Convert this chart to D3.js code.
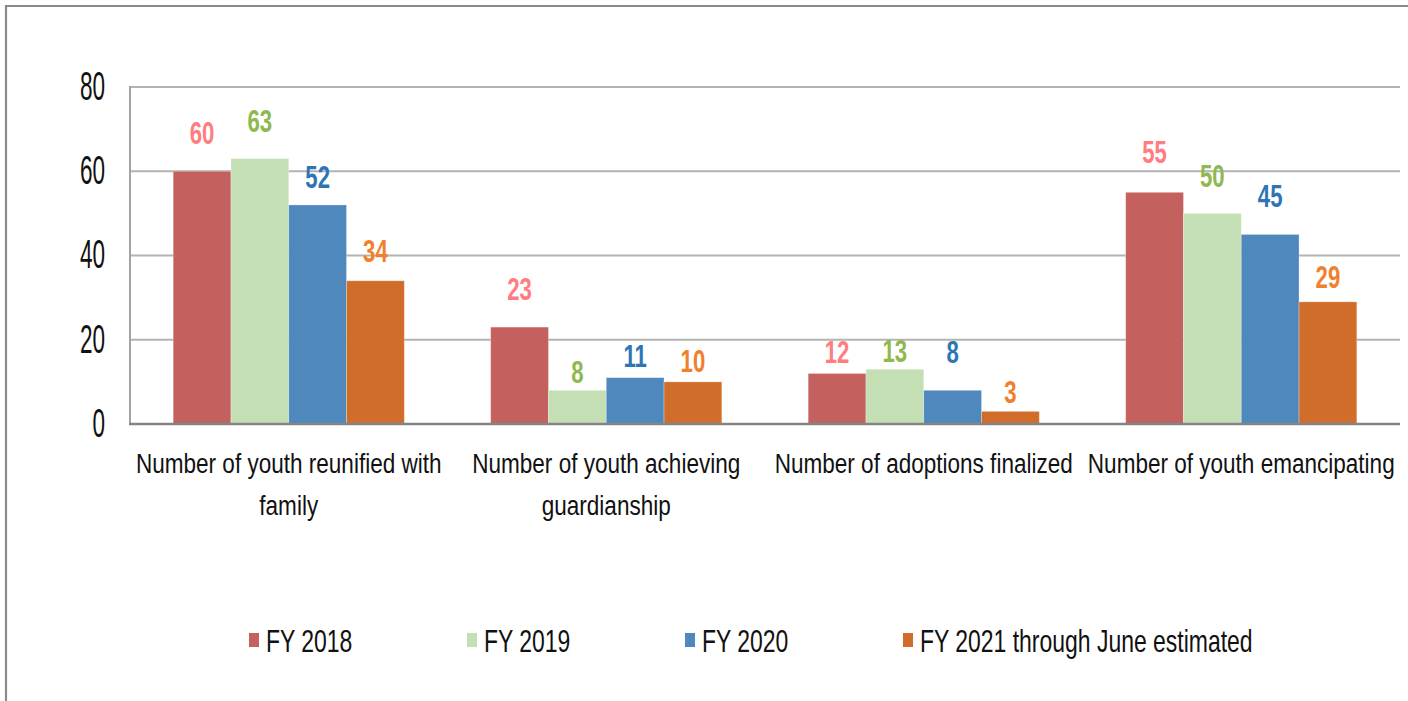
<!DOCTYPE html>
<html>
<head>
<meta charset="utf-8">
<script src="https://cdn.jsdelivr.net/npm/d3@7/dist/d3.min.js"></script>
<style>
  html, body { margin: 0; padding: 0; background: #fff; }
  svg { display: block; }
  text { font-family: "Liberation Sans", Arial, sans-serif; }
</style>
</head>
<body>
<svg id="chart" width="1408" height="701"></svg>
<script>
// ---- data ----
const categories = [
  ["Number of youth reunified with", "family"],
  ["Number of youth achieving", "guardianship"],
  ["Number of adoptions finalized"],
  ["Number of youth emancipating"]
];
const seriesNames = ["FY 2018", "FY 2019", "FY 2020", "FY 2021 through June estimated"];
const fy2018 = [60, 23, 12, 55];
const fy2019 = [63, 8, 13, 50];
const fy2020 = [52, 11, 8, 45];
const fy2021 = [34, 10, 3, 29];
const yTicks = [0, 20, 40, 60, 80];

// ---- styling (not data) ----
const barColors = ["#c4605d", "#c5dfb4", "#4f88bd", "#d16d2a"];
const labelColors = ["#ff7c80", "#8fb84e", "#2e75b6", "#f07f2e"];
// hand-placed label gaps above bar tops in the original (px), by series x category
const labelGap = [
  [27, 27, 10, 29],
  [27, 7, 7, 26],
  [17, 11, 27, 27],
  [19, 10, 8, 14]
];
const NARROW = 0.82; // Liberation Sans squeezed to Arial Narrow proportions

const seriesValues = [fy2018, fy2019, fy2020, fy2021];

const svg = d3.select("#chart");
const W = 1408, H = 701;
const plot = { left: 130, right: 1400, top: 87, bottom: 424 };

// outer frame (top and left visible)
svg.append("path")
  .attr("d", `M6,${H} V6 H${W}`)
  .attr("fill", "none")
  .attr("stroke", "#8a8a8a")
  .attr("stroke-width", 2.2);

const y = d3.scaleLinear().domain([0, 80]).range([plot.bottom, plot.top]);
const x0 = d3.scaleBand().domain(d3.range(categories.length))
  .range([plot.left, plot.right]).paddingInner(0).paddingOuter(0);
const groupPad = 0.136;
const x1 = d3.scaleBand().domain(d3.range(seriesNames.length))
  .range([x0.bandwidth() * groupPad, x0.bandwidth() * (1 - groupPad)]).padding(0);

// gridlines
svg.append("g").selectAll("line")
  .data(yTicks.filter(t => t > 0))
  .join("line")
  .attr("x1", plot.left).attr("x2", plot.right)
  .attr("y1", d => y(d)).attr("y2", d => y(d))
  .attr("stroke", "#b3b3b3").attr("stroke-width", 2);

// y axis line
svg.append("line")
  .attr("x1", plot.left).attr("x2", plot.left)
  .attr("y1", plot.top - 1).attr("y2", plot.bottom)
  .attr("stroke", "#a3a3a3").attr("stroke-width", 2);

// y tick labels (tall, condensed)
const tickFs = 27.5, tickSy = 1.5;
svg.append("g").selectAll("text")
  .data(yTicks)
  .join("text")
  .attr("transform", d => `translate(105,${y(d) + 0.716 * tickFs * tickSy / 2 - 2}) scale(${NARROW},${tickSy})`)
  .attr("text-anchor", "end")
  .attr("font-size", tickFs)
  .attr("fill", "#111")
  .text(d => d);

// bars
const groups = svg.append("g").selectAll("g")
  .data(seriesValues)
  .join("g")
  .attr("fill", (d, i) => barColors[i]);

groups.each(function (vals, si) {
  d3.select(this).selectAll("rect")
    .data(vals)
    .join("rect")
    .attr("x", (v, ci) => x0(ci) + x1(si))
    .attr("width", x1.bandwidth())
    .attr("y", v => y(v))
    .attr("height", v => y(0) - y(v))
    .attr("stroke", "rgba(255,255,255,0.35)")
    .attr("stroke-width", 0.8);
});

// x axis line
svg.append("line")
  .attr("x1", plot.left - 1).attr("x2", plot.right)
  .attr("y1", plot.bottom).attr("y2", plot.bottom)
  .attr("stroke", "#858585").attr("stroke-width", 2.5);

// data labels
const dlFs = 27, dlSy = 1.13;
seriesValues.forEach((vals, si) => {
  svg.append("g").selectAll("text")
    .data(vals)
    .join("text")
    .attr("transform", (v, ci) => `translate(${x0(ci) + x1(si) + x1.bandwidth() / 2},${y(v) - labelGap[si][ci]}) scale(${NARROW},${dlSy})`)
    .attr("text-anchor", "middle")
    .attr("font-size", dlFs)
    .attr("font-weight", "bold")
    .attr("fill", labelColors[si])
    .text(v => v);
});

// category labels
const catFs = 27.5, catSy = 1.0;
const catG = svg.append("g").selectAll("g")
  .data(categories)
  .join("g");
catG.each(function (lines, ci) {
  d3.select(this).selectAll("text")
    .data(lines)
    .join("text")
    .attr("transform", (t, li) => `translate(${x0(ci) + x0.bandwidth() / 2},${473 + li * 42}) scale(${NARROW},${catSy})`)
    .attr("text-anchor", "middle")
    .attr("font-size", catFs)
    .attr("fill", "#111")
    .text(t => t);
});

// legend
const legFs = 28, legSy = 1.15;
const leg = svg.append("g").selectAll("g")
  .data(seriesNames)
  .join("g")
  .attr("transform", (d, i) => `translate(${249 + i * 218},0)`);
leg.append("rect")
  .attr("x", 0).attr("y", 633)
  .attr("width", 10).attr("height", 14)
  .attr("fill", (d, i) => barColors[i]);
leg.append("text")
  .attr("transform", `translate(17,652) scale(${NARROW},${legSy})`)
  .attr("font-size", legFs)
  .attr("fill", "#111")
  .text(d => d);
</script>
</body>
</html>
